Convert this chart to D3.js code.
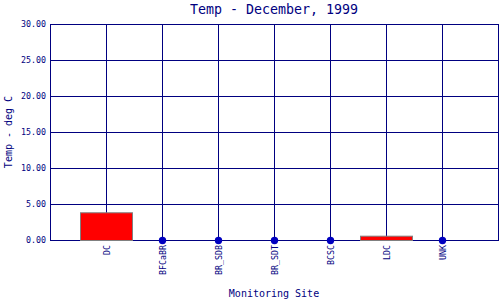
<!DOCTYPE html>
<html><head><meta charset="utf-8">
<script src="https://cdn.jsdelivr.net/npm/d3@7"></script>
<style>body{margin:0;background:#fff}svg{display:block}</style>
</head><body>
<svg id="c" width="500" height="300"></svg>
<script>
const categories = ["DC","BFCaBR","BR_SDB","BR_SDT","BCSC","LDC","UNK"];
const values = [3.85, 0, 0, 0, 0, 0.6, 0];
const yTicks = [0,5,10,15,20,25,30];
const title = "Temp - December, 1999";
const xTitle = "Monitoring Site";
const yTitle = "Temp - deg C";

const W=500,H=300, L=50, R=499, T=24, B=240;
const navy="#000080", font="'DejaVu Sans Mono', 'Liberation Mono', monospace";
const svg=d3.select("#c");
const x=d3.scalePoint().domain(categories).range([L,R-1]).padding(1);
const y=d3.scaleLinear().domain([0,30]).range([B,T]);

// horizontal grid
svg.append("g").selectAll("line").data(yTicks).join("line")
  .attr("x1",L).attr("x2",R).attr("y1",d=>y(d)+0.5).attr("y2",d=>y(d)+0.5)
  .attr("stroke",navy).attr("stroke-width",1);
// vertical grid
svg.append("g").selectAll("line").data(categories).join("line")
  .attr("x1",d=>Math.round(x(d))+0.5).attr("x2",d=>Math.round(x(d))+0.5)
  .attr("y1",T).attr("y2",B).attr("stroke",navy).attr("stroke-width",1);
// border
svg.append("rect").attr("x",L+0.5).attr("y",T+0.5).attr("width",R-L-1).attr("height",B-T)
  .attr("fill","none").attr("stroke",navy).attr("stroke-width",1);

const data=categories.map((c,i)=>({c,v:values[i]}));
const bw=52;
svg.append("g").selectAll("rect").data(data.filter(d=>d.v>0)).join("rect")
  .attr("x",d=>Math.round(x(d.c))-bw/2+0.5).attr("width",bw)
  .attr("y",d=>y(d.v)+0.5).attr("height",d=>y(0)-y(d.v))
  .attr("fill","#ff0000").attr("stroke","#808080").attr("stroke-width",1);
svg.append("g").selectAll("circle").data(data.filter(d=>d.v===0)).join("circle")
  .attr("cx",d=>Math.round(x(d.c))+0.5).attr("cy",y(0)+0.5).attr("r",3.7).attr("fill","#0000c0");

// y tick labels
svg.append("g").selectAll("text").data(yTicks).join("text")
  .attr("x",46).attr("y",d=>y(d)+3).attr("text-anchor","end")
  .attr("font-family",font).attr("font-size",8.3).attr("fill",navy)
  .text(d=>d.toFixed(2));
// x tick labels
svg.append("g").selectAll("text").data(categories).join("text")
  .attr("transform",d=>`translate(${Math.round(x(d))+3.5},245) rotate(-90)`)
  .attr("text-anchor","end")
  .attr("font-family",font).attr("font-size",8.3).attr("fill",navy)
  .text(d=>d);

svg.append("text").attr("x",274).attr("y",14).attr("text-anchor","middle")
  .attr("font-family",font).attr("font-size",13.3).attr("fill",navy).text(title);
svg.append("text").attr("x",274).attr("y",297).attr("text-anchor","middle")
  .attr("font-family",font).attr("font-size",10).attr("fill",navy).text(xTitle);
svg.append("text").attr("transform","translate(12,132) rotate(-90)").attr("text-anchor","middle")
  .attr("font-family",font).attr("font-size",10).attr("fill",navy).text(yTitle);
</script>
</body></html>
